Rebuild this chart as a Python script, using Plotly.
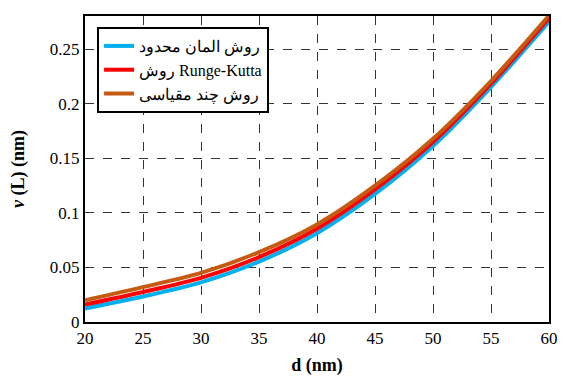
import plotly.graph_objects as go

d = [20, 25, 30, 35, 40, 45, 50, 55, 60]
fem = [0.0124, 0.0234, 0.0364, 0.0554, 0.0814, 0.1174, 0.1614, 0.2154, 0.2754]
rk = [0.016, 0.0275, 0.0405, 0.0595, 0.0855, 0.1215, 0.1650, 0.2185, 0.2785]
ms = [0.020, 0.032, 0.045, 0.064, 0.0895, 0.125, 0.168, 0.221, 0.281]

names = ["روش المان محدود", "روش Runge-Kutta", "روش چند مقیاسی"]
colors = ["#00B0F0", "#FF0000", "#C55A11"]
x_ticks = [20, 25, 30, 35, 40, 45, 50, 55, 60]
y_ticks = [0, 0.05, 0.1, 0.15, 0.2, 0.25]
y_tick_text = ["0", "0.05", "0.1", "0.15", "0.2", "0.25"]

fig = go.Figure()
for ys, nm, c in zip([fem, rk, ms], names, colors):
    fig.add_trace(go.Scatter(x=d, y=ys, mode="lines", name=nm,
                             line=dict(color=c, width=4, shape="spline", smoothing=0.8)))

font_serif = "Liberation Serif"
fig.update_layout(
    width=557, height=368,
    margin=dict(l=77, r=16, t=8, b=54),
    paper_bgcolor="white", plot_bgcolor="white",
    font=dict(family=font_serif, size=17, color="black"),
    showlegend=True,
    legend=dict(x=0.026, y=0.964, xanchor="left", yanchor="top",
                bgcolor="white", bordercolor="black", borderwidth=2,
                font=dict(family=font_serif, size=16),
                itemwidth=30),
    xaxis=dict(range=[20, 60], tickvals=x_ticks, showgrid=True,
               gridcolor="#333", griddash="dash", gridwidth=1,
               showline=True, linecolor="black", linewidth=2, mirror=True,
               ticks="", zeroline=False, automargin=False,
               tickfont=dict(family=font_serif, size=17),
               title=dict(text="<b>d (nm)</b>", standoff=12,
                          font=dict(family=font_serif, size=18, weight="bold"))),
    yaxis=dict(range=[0, 0.2806], tickvals=y_ticks, ticktext=y_tick_text,
               showgrid=True, gridcolor="#333", griddash="dash", gridwidth=1,
               showline=True, linecolor="black", linewidth=2, mirror=True,
               ticks="", zeroline=False, automargin=False,
               tickfont=dict(family=font_serif, size=17),
               title=dict(text="<b><i>v</i> (L) (nm)</b>", standoff=22,
                          font=dict(family=font_serif, size=18, weight="bold"))),
)

fig.write_html("out.html")
